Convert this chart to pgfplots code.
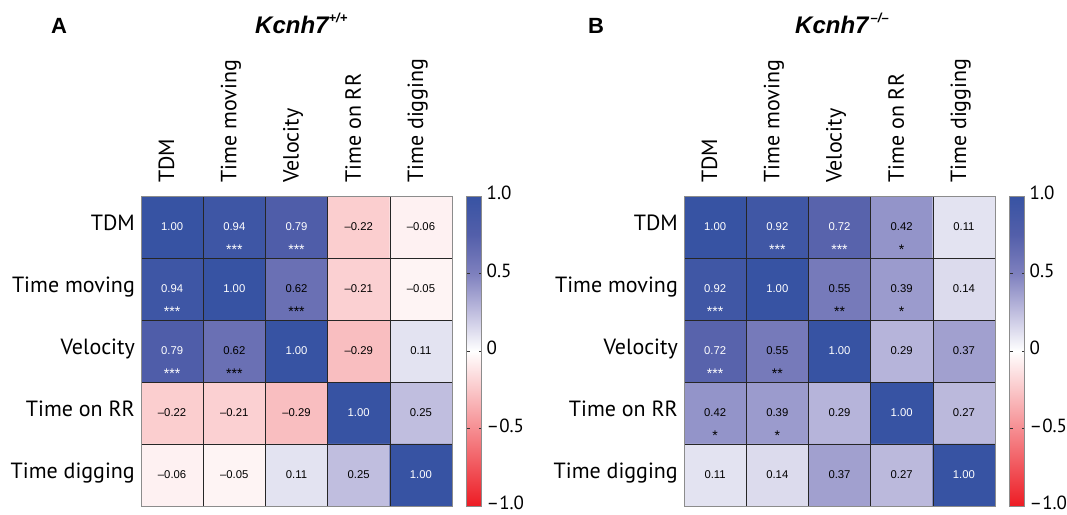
\documentclass[border=0pt]{standalone}
\usepackage{fontspec}
\setmainfont{PT Sans}
\newfontfamily\arial{Liberation Sans}
\usepackage{pgfplots}
\usepackage{pgfplotstable}
\pgfplotsset{compat=1.18}

\newcommand{\lblfont}{\fontsize{22}{24}\selectfont}
\newcommand{\cbfont}{\fontsize{19}{22}\selectfont}
\newcommand{\numfont}{\arial\fontsize{11.3}{12}\selectfont}
\newcommand{\starfont}{\arial\fontsize{14}{14}\selectfont}

% correlation matrices (row = y, column = x)
\pgfplotstableread{
x y c
0 0 1.00
1 0 0.94
2 0 0.79
3 0 -0.22
4 0 -0.06
0 1 0.94
1 1 1.00
2 1 0.62
3 1 -0.21
4 1 -0.05
0 2 0.79
1 2 0.62
2 2 1.00
3 2 -0.29
4 2 0.11
0 3 -0.22
1 3 -0.21
2 3 -0.29
3 3 1.00
4 3 0.25
0 4 -0.06
1 4 -0.05
2 4 0.11
3 4 0.25
4 4 1.00
}\corrA

\pgfplotstableread{
x y c
0 0 1.00
1 0 0.92
2 0 0.72
3 0 0.42
4 0 0.11
0 1 0.92
1 1 1.00
2 1 0.55
3 1 0.39
4 1 0.14
0 2 0.72
1 2 0.55
2 2 1.00
3 2 0.29
4 2 0.37
0 3 0.42
1 3 0.39
2 3 0.29
3 3 1.00
4 3 0.27
0 4 0.11
1 4 0.14
2 4 0.37
3 4 0.27
4 4 1.00
}\corrB

% cell labels, white and black
\pgfplotstableread{
x y t
0 0 1.00
1 0 0.94
2 0 0.79
0 1 0.94
1 1 1.00
0 2 0.79
2 2 1.00
3 3 1.00
4 4 1.00
}\txtAw
\pgfplotstableread{
x y t
3 0 –0.22
4 0 –0.06
2 1 0.62
3 1 –0.21
4 1 –0.05
1 2 0.62
3 2 –0.29
4 2 0.11
0 3 –0.22
1 3 –0.21
2 3 –0.29
4 3 0.25
0 4 –0.06
1 4 –0.05
2 4 0.11
3 4 0.25
}\txtAk
\pgfplotstableread{
x y t
1 0.37 ***
2 0.37 ***
0 1.37 ***
0 2.37 ***
}\starAw
\pgfplotstableread{
x y t
2 1.37 ***
1 2.37 ***
}\starAk

\pgfplotstableread{
x y t
0 0 1.00
1 0 0.92
2 0 0.72
0 1 0.92
1 1 1.00
0 2 0.72
2 2 1.00
3 3 1.00
4 4 1.00
}\txtBw
\pgfplotstableread{
x y t
3 0 0.42
4 0 0.11
2 1 0.55
3 1 0.39
4 1 0.14
1 2 0.55
3 2 0.29
4 2 0.37
0 3 0.42
1 3 0.39
2 3 0.29
4 3 0.27
0 4 0.11
1 4 0.14
2 4 0.37
3 4 0.27
}\txtBk
\pgfplotstableread{
x y t
1 0.37 ***
2 0.37 ***
0 1.37 ***
0 2.37 ***
}\starBw
\pgfplotstableread{
x y t
3 0.37 *
2 1.37 **
3 1.37 *
1 2.37 **
0 3.37 *
1 3.37 *
}\starBk

\pgfplotsset{
  colormap={corr}{
    rgb255=(237,28,36) rgb255=(241,85,91) rgb255=(246,142,146) rgb255=(250,199,201)
    rgb255=(255,255,255)
    rgb255=(192,190,223) rgb255=(126,128,190) rgb255=(83,95,170) rgb255=(55,83,163)},
  corrmat/.style={
    scale only axis, width=311pt, height=310pt,
    xmin=-0.5, xmax=4.5, ymin=-0.5, ymax=4.5, y dir=reverse,
    xtick={0,1,2,3,4}, ytick={0,1,2,3,4},
    xticklabels={TDM,Time moving,Velocity,Time on RR,Time digging},
    yticklabels={TDM,Time moving,Velocity,Time on RR,Time digging},
    xticklabel pos=right,
    major tick length=0pt, minor tick length=0pt,
    minor xtick={0.5,1.5,2.5,3.5}, minor ytick={0.5,1.5,2.5,3.5},
    xminorgrids=true, yminorgrids=true,
    minor grid style={black!85, line width=0.6pt},
    axis line style={black!45, line width=0.8pt},
    axis on top,
    colormap name=corr, point meta min=-1, point meta max=1,
    xticklabel style={rotate=90, anchor=west, inner sep=0pt,
      text height=0.7em, text depth=0.28em, font=\lblfont},
    xticklabel shift=13pt,
    yticklabel style={anchor=east, inner sep=0pt,
      text height=0.7em, text depth=0pt, font=\lblfont},
    yticklabel shift=6pt,
    colorbar,
    colorbar style={
      at={(parent axis.north east)}, anchor=north west, xshift=6pt,
      scale only axis, width=15pt, height=310pt,
      ytick={-1,-0.5,0,0.5,1},
      yticklabels={–1.0,–0.5,0,0.5,1.0},
      yticklabel style={anchor=west, inner sep=0pt, xshift=5pt,
        text height=0.7em, text depth=0pt, font=\cbfont},
      axis line style={black!45, line width=0.8pt},
      major tick length=3pt, tick align=inside,
      ytick style={black!80},
    },
  },
  celltxt/.style={draw=none, mark=none, nodes near coords,
    point meta=explicit symbolic,
    nodes near coords style={anchor=center, inner sep=0pt, font=#1}},
}

\begin{document}
\begin{tikzpicture}
\useasboundingbox (0pt,0pt) rectangle (1067pt,-514pt);

% panel A
\begin{axis}[corrmat, at={(141pt,-196pt)}, anchor=north west]
\addplot[matrix plot*, mesh/cols=5, mesh/rows=5, point meta=explicit]
  table[x=x, y=y, meta=c] {\corrA};
\addplot[celltxt=\numfont, nodes near coords style={text=white}] table[meta=t] {\txtAw};
\addplot[celltxt=\numfont, nodes near coords style={text=black}] table[meta=t] {\txtAk};
\addplot[celltxt=\starfont, nodes near coords style={text=white}] table[meta=t] {\starAw};
\addplot[celltxt=\starfont, nodes near coords style={text=black}] table[meta=t] {\starAk};
\end{axis}

% panel B
\begin{axis}[corrmat, at={(684pt,-196pt)}, anchor=north west]
\addplot[matrix plot*, mesh/cols=5, mesh/rows=5, point meta=explicit]
  table[x=x, y=y, meta=c] {\corrB};
\addplot[celltxt=\numfont, nodes near coords style={text=white}] table[meta=t] {\txtBw};
\addplot[celltxt=\numfont, nodes near coords style={text=black}] table[meta=t] {\txtBk};
\addplot[celltxt=\starfont, nodes near coords style={text=white}] table[meta=t] {\starBw};
\addplot[celltxt=\starfont, nodes near coords style={text=black}] table[meta=t] {\starBk};
\end{axis}

% panel letters and titles
\node[anchor=base west, inner sep=0pt, font=\arial\bfseries\fontsize{22}{24}\selectfont] at (51pt,-33pt) {A};
\node[anchor=base west, inner sep=0pt, font=\arial\bfseries\fontsize{22}{24}\selectfont] at (588pt,-33pt) {B};
\node[anchor=base west, inner sep=0pt, font=\arial\bfseries\itshape\fontsize{24}{26}\selectfont] at (255pt,-33pt)
  {Kcnh7\raisebox{0.42em}{\fontsize{13}{13}\selectfont +/+}};
\node[anchor=base west, inner sep=0pt, font=\arial\bfseries\itshape\fontsize{24}{26}\selectfont] at (795pt,-33pt)
  {Kcnh7\raisebox{0.42em}{\fontsize{13}{13}\selectfont \,–/–}};
\end{tikzpicture}
\end{document}
